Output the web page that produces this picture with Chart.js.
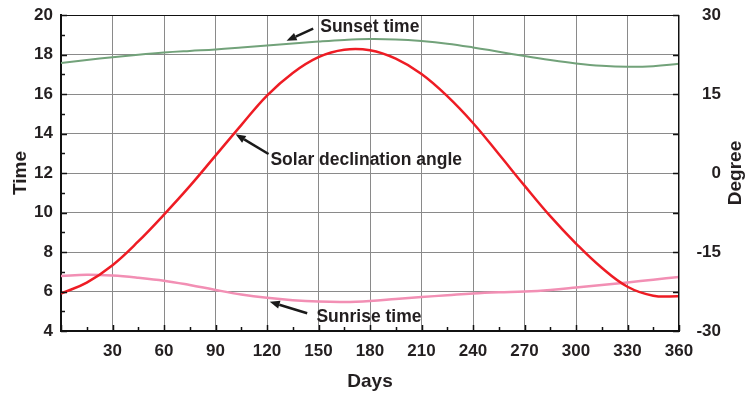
<!DOCTYPE html>
<html>
<head>
<meta charset="utf-8">
<script src="https://cdn.jsdelivr.net/npm/chart.js@4/dist/chart.umd.min.js"></script>
<style>
  html, body { margin: 0; padding: 0; background: #fff; }
  #wrap { width: 746px; height: 395px; }
</style>
</head>
<body>
<div id="wrap"><canvas id="solarChart" width="746" height="395"></canvas></div>
<script>
// Valores, uno cada 15 días
const days = [0, 15, 30, 45, 60, 75, 90, 105, 120, 135, 150, 165, 180,
              195, 210, 225, 240, 255, 270, 285, 300, 315, 330, 345, 360];

// Hora de puesta del sol (eje izquierdo, horas)
const sunsetTime = [17.57, 17.72, 17.86, 17.99, 18.10, 18.18, 18.25, 18.35, 18.46, 18.56, 18.66, 18.74, 18.78,
                    18.76, 18.68, 18.55, 18.36, 18.14, 17.92, 17.72, 17.55, 17.43, 17.38, 17.41, 17.53];

// Hora de salida del sol (eje izquierdo, horas)
const sunriseTime = [6.78, 6.85, 6.81, 6.70, 6.55, 6.33, 6.08, 5.85, 5.68, 5.56, 5.49, 5.47, 5.52,
                     5.62, 5.72, 5.81, 5.90, 5.96, 6.00, 6.08, 6.20, 6.33, 6.46, 6.60, 6.74];

// Ángulo de declinación solar (eje derecho, grados)
const declination = [-22.9, -20.8, -17.5, -13.0, -7.9, -2.5, 3.3, 9.1, 14.7, 19.0, 22.0, 23.4, 23.3,
                     21.7, 18.8, 14.6, 9.5, 3.6, -2.4, -8.2, -13.4, -18.0, -21.6, -23.3, -23.4];

// Etiquetas de los ejes
const xTitle = 'Days';
const yTitle = 'Time';
const y2Title = 'Degree';

// Notas con flecha (posición en coordenadas de datos del eje izquierdo)
const notes = [
  { text: 'Sunset time', at: [151, 19.38], from: [146.9, 19.31], to: [131.4, 18.70] },
  { text: 'Solar declination angle', at: [122, 12.66], from: [120.9, 12.96], to: [101.7, 13.96] },
  { text: 'Sunrise time', at: [148.8, 4.72], from: [143.4, 4.90], to: [121.6, 5.48] }
];

const FONT = '"Liberation Sans", Arial, Helvetica, sans-serif';
const TXT = '#231f20';

const puntos = arr => days.map((d, i) => ({ x: d, y: arr[i] }));

// Dibuja marco, marcas menores, título derecho y notas
const extras = {
  id: 'extras',
  afterDatasetsDraw(chart) {
    const { ctx, chartArea: a, scales } = chart;
    const sx = scales.x, sy = scales.y, sy2 = scales.y2;
    ctx.save();
    ctx.strokeStyle = '#111';

    // marco superior y derecho
    ctx.lineWidth = 1;
    ctx.beginPath();
    ctx.moveTo(a.left, a.top + 0.5); ctx.lineTo(a.right, a.top + 0.5);
    ctx.moveTo(a.right - 0.5, a.top); ctx.lineTo(a.right - 0.5, a.bottom);
    ctx.stroke();

    // marcas hacia dentro
    ctx.lineWidth = 1.5;
    ctx.beginPath();
    for (let v = 4; v <= 20; v++) {
      const y = Math.round(sy.getPixelForValue(v)) + 0.5;
      const len = v % 2 === 0 ? 6 : 4;
      ctx.moveTo(a.left, y); ctx.lineTo(a.left + len, y);
    }
    for (let d = 0; d <= 360; d += 15) {
      const x = Math.round(sx.getPixelForValue(d)) + 0.5;
      const len = d % 30 === 0 ? 6 : 4;
      ctx.moveTo(x, a.bottom); ctx.lineTo(x, a.bottom - len);
    }
    for (let g = -30; g <= 30; g += 7.5) {
      const y = Math.round(sy2.getPixelForValue(g)) + 0.5;
      ctx.moveTo(a.right, y); ctx.lineTo(a.right - 6, y);
    }
    ctx.stroke();

    // título del eje derecho
    ctx.fillStyle = TXT;
    ctx.font = 'bold 19px ' + FONT;
    ctx.textAlign = 'center';
    ctx.textBaseline = 'middle';
    ctx.save();
    ctx.translate(736, (a.top + a.bottom) / 2);
    ctx.rotate(-Math.PI / 2);
    ctx.fillText(y2Title, 0, 0);
    ctx.restore();

    // notas con flecha
    ctx.font = 'bold 17.5px ' + FONT;
    ctx.textAlign = 'left';
    ctx.strokeStyle = '#1a1a1a';
    ctx.fillStyle = '#1a1a1a';
    notes.forEach(n => {
      const x0 = sx.getPixelForValue(n.from[0]), y0 = sy.getPixelForValue(n.from[1]);
      const x1 = sx.getPixelForValue(n.to[0]), y1 = sy.getPixelForValue(n.to[1]);
      const ang = Math.atan2(y1 - y0, x1 - x0);
      const hl = 10, hw = 4;
      const bx = x1 - hl * Math.cos(ang), by = y1 - hl * Math.sin(ang);
      ctx.lineWidth = 2.5;
      ctx.beginPath();
      ctx.moveTo(x0, y0); ctx.lineTo(bx, by);
      ctx.stroke();
      ctx.beginPath();
      ctx.moveTo(x1, y1);
      ctx.lineTo(bx + hw * Math.sin(ang), by - hw * Math.cos(ang));
      ctx.lineTo(bx - hw * Math.sin(ang), by + hw * Math.cos(ang));
      ctx.closePath();
      ctx.fill();
      ctx.fillStyle = TXT;
      ctx.fillText(n.text, sx.getPixelForValue(n.at[0]), sy.getPixelForValue(n.at[1]));
      ctx.fillStyle = '#1a1a1a';
    });
    ctx.restore();
  }
};

// Quita el margen extra que Chart.js reserva para la etiqueta superior
const sinMargen = (s, ancho) => {
  s.width = ancho;
  s.paddingTop = 0;
  s.paddingBottom = 0;
};

const ctx = document.getElementById('solarChart').getContext('2d');

new Chart(ctx, {
  type: 'line',
  data: {
    datasets: [
      {
        label: 'Solar declination angle',
        data: puntos(declination),
        yAxisID: 'y2',
        borderColor: '#ee1c24',
        borderWidth: 2.5,
        order: 0
      },
      {
        label: 'Sunset time',
        data: puntos(sunsetTime),
        yAxisID: 'y',
        borderColor: '#72a27a',
        borderWidth: 2,
        order: 2
      },
      {
        label: 'Sunrise time',
        data: puntos(sunriseTime),
        yAxisID: 'y',
        borderColor: '#f28fb4',
        borderWidth: 2.5,
        order: 1
      }
    ]
  },
  options: {
    responsive: false,
    animation: false,
    layout: { padding: { top: 15, left: 0, right: 25, bottom: 0 } },
    elements: {
      point: { radius: 0 },
      line: { tension: 0.4, fill: false }
    },
    plugins: {
      legend: { display: false },
      tooltip: { enabled: false }
    },
    scales: {
      x: {
        type: 'linear',
        min: 0,
        max: 360,
        ticks: {
          stepSize: 30,
          padding: 10,
          maxRotation: 0,
          color: TXT,
          font: { family: FONT, size: 17, weight: 'bold' },
          callback: v => (v === 0 ? '' : v)
        },
        grid: { color: '#8a8a8a', lineWidth: 1, drawTicks: false },
        border: { display: true, color: '#111', width: 2 },
        title: {
          display: true,
          text: xTitle,
          color: TXT,
          font: { family: FONT, size: 19, weight: 'bold' },
          padding: { top: 0, bottom: 2 }
        },
        afterFit: s => { s.height = 64; }
      },
      y: {
        position: 'left',
        min: 4,
        max: 20,
        ticks: {
          stepSize: 2,
          padding: 8,
          color: TXT,
          font: { family: FONT, size: 17, weight: 'bold' }
        },
        grid: { color: '#8a8a8a', lineWidth: 1, drawTicks: false },
        border: { display: true, color: '#111', width: 2 },
        title: {
          display: true,
          text: yTitle,
          color: TXT,
          font: { family: FONT, size: 19, weight: 'bold' },
          padding: { top: 9, bottom: 0 }
        },
        afterFit: s => sinMargen(s, 61)
      },
      y2: {
        position: 'right',
        min: -30,
        max: 30,
        ticks: {
          stepSize: 15,
          padding: 0,
          crossAlign: 'far',
          color: TXT,
          font: { family: FONT, size: 17, weight: 'bold' }
        },
        grid: { display: false, drawTicks: false },
        border: { display: false },
        afterFit: s => sinMargen(s, 42)
      }
    }
  },
  plugins: [extras]
});
</script>
</body>
</html>
